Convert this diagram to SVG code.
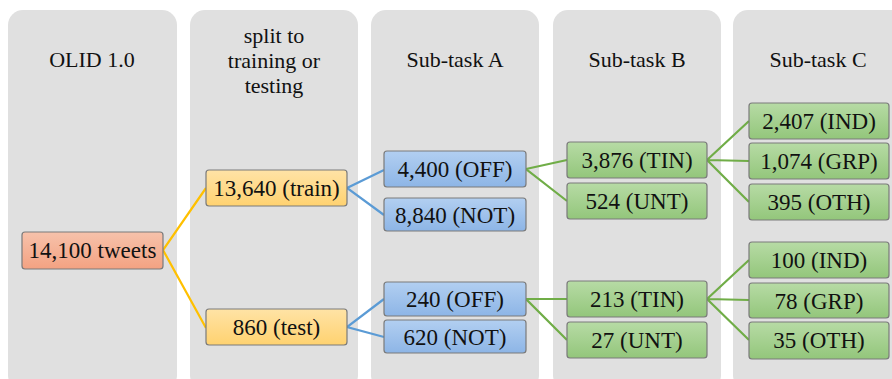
<svg xmlns="http://www.w3.org/2000/svg" width="892" height="379" viewBox="0 0 892 379">
<defs>
<linearGradient id="gRed" x1="0" y1="0" x2="0" y2="1"><stop offset="0" stop-color="#f7c2ab"/><stop offset="1" stop-color="#f3a282"/></linearGradient>
<linearGradient id="gYel" x1="0" y1="0" x2="0" y2="1"><stop offset="0" stop-color="#ffe3a6"/><stop offset="1" stop-color="#ffd270"/></linearGradient>
<linearGradient id="gBlu" x1="0" y1="0" x2="0" y2="1"><stop offset="0" stop-color="#b2cff1"/><stop offset="1" stop-color="#8db5e6"/></linearGradient>
<linearGradient id="gGrn" x1="0" y1="0" x2="0" y2="1"><stop offset="0" stop-color="#b7dba5"/><stop offset="1" stop-color="#93c67b"/></linearGradient>
</defs>
<style>
.panel{fill:#e0e0e0}
.title{font-size:22px;fill:#111;text-anchor:middle}
.node rect{stroke:#7a7a7a;stroke-width:1.2}
.node text{font-size:23px;fill:#111;text-anchor:middle}
.red rect{fill:url(#gRed)}
.yel rect{fill:url(#gYel)}
.blu rect{fill:url(#gBlu)}
.grn rect{fill:url(#gGrn)}
.c{fill:none;stroke-width:2.2}
.cy{stroke:#ffc000}
.cb{stroke:#5b9bd5}
.cg{stroke:#70ad47}
</style>
<rect width="892" height="379" fill="#ffffff"/>
<g id="panels">
<rect class="panel" x="8" y="10" width="169" height="380" rx="15"/>
<rect class="panel" x="190" y="10" width="168" height="380" rx="15"/>
<rect class="panel" x="371" y="10" width="168" height="380" rx="15"/>
<rect class="panel" x="553" y="10" width="168" height="380" rx="15"/>
<rect class="panel" x="733" y="10" width="180" height="380" rx="15"/>
</g>
<g font-family="Liberation Serif">
<g id="titles">
<text class="title" x="92" y="67">OLID 1.0</text>
<text class="title" x="274" y="43">split to</text>
<text class="title" x="274" y="68">training or</text>
<text class="title" x="274" y="93">testing</text>
<text class="title" x="455" y="67">Sub-task A</text>
<text class="title" x="637" y="67">Sub-task B</text>
<text class="title" x="818" y="67">Sub-task C</text>
</g>
<g id="connectors">
<polyline class="c cy" points="206,188 163,250 206,328"/>
<polyline class="c cb" points="384,170 347,188 384,215"/>
<polyline class="c cb" points="384,299 347,327 384,337"/>
<polyline class="c cg" points="567,160 526,169 567,201"/>
<polyline class="c cg" points="567,299 526,299 567,340"/>
<path class="c cg" d="M707,160 L749,121 M707,160 L749,161 M707,160 L749,202"/>
<path class="c cg" d="M707,299 L749,260 M707,299 L749,300 M707,299 L749,340"/>
</g>
<g id="n_all" class="node red"><rect x="22" y="232" width="141" height="37" rx="3"/><text x="92.5" y="258">14,100 tweets</text></g>
<g id="n_train" class="node yel"><rect x="206" y="170" width="141" height="36" rx="3"/><text x="276.5" y="196">13,640 (train)</text></g>
<g id="n_test" class="node yel"><rect x="206" y="309" width="141" height="36" rx="3"/><text x="276.5" y="335">860 (test)</text></g>
<g id="n_off1" class="node blu"><rect x="384" y="151" width="142" height="36" rx="3"/><text x="455" y="177">4,400 (OFF)</text></g>
<g id="n_not1" class="node blu"><rect x="384" y="198" width="142" height="33" rx="3"/><text x="455" y="222.5">8,840 (NOT)</text></g>
<g id="n_off2" class="node blu"><rect x="384" y="282" width="142" height="34" rx="3"/><text x="455" y="307">240 (OFF)</text></g>
<g id="n_not2" class="node blu"><rect x="384" y="320" width="142" height="33" rx="3"/><text x="455" y="344.5">620 (NOT)</text></g>
<g id="n_tin1" class="node grn"><rect x="567" y="142" width="140" height="36" rx="3"/><text x="637" y="168">3,876 (TIN)</text></g>
<g id="n_unt1" class="node grn"><rect x="567" y="183" width="140" height="36" rx="3"/><text x="637" y="209">524 (UNT)</text></g>
<g id="n_tin2" class="node grn"><rect x="567" y="281" width="140" height="36" rx="3"/><text x="637" y="307">213 (TIN)</text></g>
<g id="n_unt2" class="node grn"><rect x="567" y="322" width="140" height="36" rx="3"/><text x="637" y="348">27 (UNT)</text></g>
<g id="n_ind1" class="node grn"><rect x="749" y="103" width="140" height="36" rx="3"/><text x="819" y="129">2,407 (IND)</text></g>
<g id="n_grp1" class="node grn"><rect x="749" y="143" width="140" height="36" rx="3"/><text x="819" y="169">1,074 (GRP)</text></g>
<g id="n_oth1" class="node grn"><rect x="749" y="184" width="140" height="36" rx="3"/><text x="819" y="210">395 (OTH)</text></g>
<g id="n_ind2" class="node grn"><rect x="749" y="242" width="140" height="36" rx="3"/><text x="819" y="268">100 (IND)</text></g>
<g id="n_grp2" class="node grn"><rect x="749" y="283" width="140" height="35" rx="3"/><text x="819" y="308.5">78 (GRP)</text></g>
<g id="n_oth2" class="node grn"><rect x="749" y="322" width="140" height="37" rx="3"/><text x="819" y="348">35 (OTH)</text></g>
</g>
</svg>
